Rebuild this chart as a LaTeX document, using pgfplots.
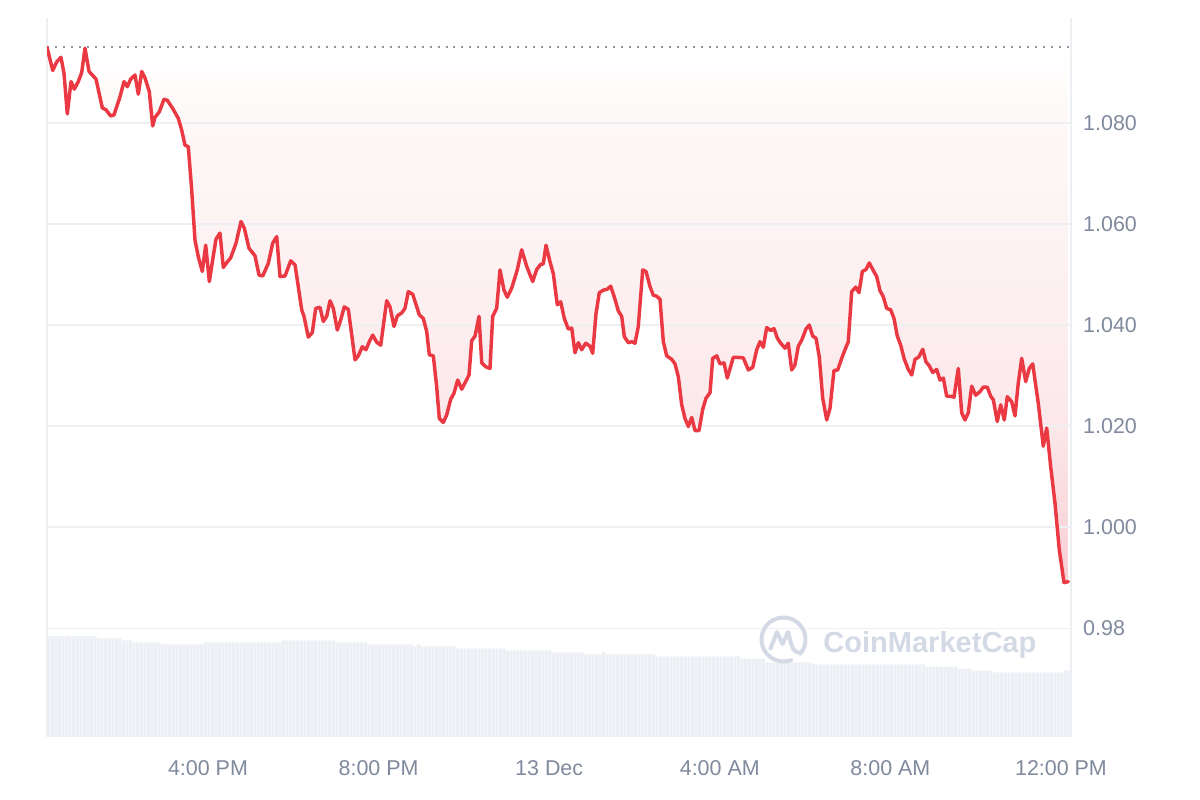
\documentclass[border=0pt]{standalone}
\usepackage{pgfplots}
\pgfplotsset{compat=1.18}
\usepackage{pgfplotstable}
\usepackage{fontspec}
\setmainfont{Liberation Sans}

\definecolor{cmcred}{RGB}{234,57,67}
\definecolor{pinkA}{RGB}{247,205,210}
\definecolor{pinkB}{RGB}{249,215,219}
\definecolor{pinkC}{RGB}{252,232,234}
\definecolor{pinkD}{RGB}{253,243,244}
\definecolor{pinkE}{RGB}{254,248,248}
\definecolor{labelgray}{RGB}{128,138,157}
\definecolor{gridgray}{RGB}{237,239,242}
\definecolor{volgray}{RGB}{236,240,244}
\definecolor{wmark}{RGB}{211,218,230}
\definecolor{dotgray}{RGB}{145,150,160}

% fill under the opening price: strong near the lows, fading to white
\pgfdeclareverticalshading{cmcfill}{100bp}{color(0bp)=(pinkA); color(25bp)=(pinkA);
  color(30bp)=(pinkB); color(40bp)=(pinkC); color(58bp)=(pinkD); color(68bp)=(pinkE);
  color(75bp)=(white); color(100bp)=(white)}

% hours after 12:00 PM (12 Dec), price in USD
\pgfplotstableread{
h p
0.225 1.0950
0.359 1.0904
0.453 1.0921
0.553 1.0930
0.624 1.0898
0.701 1.0818
0.788 1.0882
0.865 1.0867
0.959 1.0882
1.039 1.0900
1.116 1.0948
1.210 1.0902
1.374 1.0887
1.522 1.0830
1.608 1.0826
1.719 1.0814
1.796 1.0816
1.937 1.0852
2.031 1.0882
2.108 1.0872
2.188 1.0887
2.288 1.0895
2.366 1.0857
2.446 1.0902
2.523 1.0889
2.624 1.0862
2.703 1.0794
2.757 1.0811
2.858 1.0822
2.968 1.0847
3.046 1.0845
3.172 1.0829
3.304 1.0809
3.383 1.0786
3.461 1.0756
3.538 1.0753
3.618 1.0667
3.695 1.0568
3.773 1.0535
3.866 1.0506
3.946 1.0558
4.031 1.0486
4.110 1.0529
4.188 1.0570
4.281 1.0582
4.359 1.0514
4.453 1.0525
4.532 1.0533
4.657 1.0562
4.774 1.0605
4.851 1.0592
4.961 1.0552
5.102 1.0537
5.196 1.0499
5.283 1.0497
5.414 1.0522
5.517 1.0562
5.611 1.0575
5.688 1.0496
5.806 1.0497
5.939 1.0527
6.040 1.0519
6.117 1.0476
6.197 1.0430
6.251 1.0417
6.352 1.0376
6.446 1.0385
6.525 1.0433
6.626 1.0435
6.703 1.0407
6.783 1.0417
6.861 1.0448
6.938 1.0433
7.032 1.0390
7.112 1.0410
7.196 1.0436
7.290 1.0431
7.447 1.0331
7.524 1.0339
7.618 1.0357
7.705 1.0351
7.782 1.0367
7.862 1.0380
7.956 1.0366
8.050 1.0360
8.190 1.0448
8.267 1.0436
8.361 1.0397
8.439 1.0418
8.542 1.0424
8.619 1.0433
8.697 1.0466
8.800 1.0461
8.894 1.0436
8.955 1.0420
9.048 1.0413
9.128 1.0387
9.189 1.0341
9.283 1.0339
9.362 1.0278
9.423 1.0215
9.517 1.0207
9.597 1.0222
9.691 1.0253
9.768 1.0265
9.855 1.0291
9.949 1.0273
10.043 1.0288
10.120 1.0301
10.183 1.0369
10.261 1.0378
10.354 1.0417
10.418 1.0325
10.518 1.0317
10.612 1.0314
10.675 1.0417
10.769 1.0433
10.847 1.0509
10.940 1.0469
11.018 1.0455
11.121 1.0473
11.252 1.0509
11.355 1.0549
11.473 1.0516
11.613 1.0486
11.707 1.0510
11.801 1.0520
11.862 1.0521
11.925 1.0558
12.019 1.0525
12.096 1.0502
12.190 1.0440
12.270 1.0446
12.354 1.0413
12.448 1.0392
12.528 1.0394
12.605 1.0345
12.683 1.0365
12.762 1.0351
12.856 1.0364
12.957 1.0358
13.020 1.0344
13.098 1.0423
13.175 1.0464
13.269 1.0469
13.363 1.0471
13.442 1.0477
13.543 1.0451
13.620 1.0428
13.700 1.0417
13.761 1.0377
13.855 1.0365
13.935 1.0367
14.012 1.0364
14.089 1.0397
14.193 1.0509
14.270 1.0506
14.364 1.0476
14.441 1.0459
14.521 1.0457
14.598 1.0451
14.676 1.0367
14.755 1.0339
14.873 1.0332
14.950 1.0323
15.027 1.0298
15.107 1.0242
15.184 1.0215
15.262 1.0199
15.342 1.0217
15.419 1.0191
15.513 1.0191
15.599 1.0233
15.677 1.0255
15.771 1.0266
15.834 1.0334
15.928 1.0339
16.005 1.0323
16.099 1.0325
16.176 1.0295
16.317 1.0336
16.397 1.0336
16.551 1.0335
16.669 1.0311
16.772 1.0316
16.866 1.0351
16.943 1.0367
17.020 1.0356
17.100 1.0395
17.194 1.0389
17.271 1.0393
17.349 1.0374
17.428 1.0364
17.529 1.0354
17.606 1.0364
17.686 1.0311
17.763 1.0321
17.841 1.0358
17.921 1.0370
18.021 1.0392
18.099 1.0400
18.178 1.0378
18.256 1.0374
18.333 1.0337
18.413 1.0255
18.507 1.0212
18.584 1.0235
18.678 1.0310
18.765 1.0311
18.858 1.0334
18.959 1.0356
19.013 1.0367
19.093 1.0466
19.187 1.0475
19.264 1.0464
19.342 1.0506
19.428 1.0510
19.506 1.0523
19.585 1.0510
19.679 1.0496
19.756 1.0468
19.834 1.0456
19.913 1.0433
20.007 1.0430
20.085 1.0413
20.162 1.0378
20.242 1.0360
20.319 1.0334
20.420 1.0312
20.500 1.0301
20.577 1.0332
20.671 1.0337
20.758 1.0352
20.835 1.0327
20.913 1.0319
20.992 1.0306
21.086 1.0312
21.163 1.0291
21.241 1.0295
21.320 1.0259
21.414 1.0259
21.491 1.0257
21.592 1.0314
21.672 1.0226
21.749 1.0212
21.826 1.0226
21.906 1.0279
22.000 1.0261
22.101 1.0268
22.178 1.0277
22.272 1.0277
22.351 1.0259
22.413 1.0252
22.506 1.0209
22.587 1.0242
22.671 1.0212
22.741 1.0258
22.844 1.0248
22.922 1.0220
22.999 1.0285
23.079 1.0334
23.173 1.0288
23.257 1.0314
23.337 1.0323
23.468 1.0245
23.585 1.0160
23.665 1.0196
23.759 1.0119
23.860 1.0047
23.960 0.9955
24.071 0.9890
24.172 0.9892
}\pricetable

% volume bars, one per 5 minutes (relative height)
\pgfplotstableread[row sep=\\,header=false]{
101\\101\\101\\101\\101\\101\\101\\101\\101\\101\\101\\101\\101\\101\\
98.7\\98.7\\98.7\\98.7\\98.7\\98.7\\98.7\\
96.7\\96.7\\96.7\\
94.7\\94.7\\94.7\\94.7\\94.7\\94.7\\94.7\\94.7\\
92.7\\92.7\\92.7\\92.7\\92.7\\92.7\\92.7\\92.7\\92.7\\92.7\\92.7\\92.7\\
94.7\\94.7\\94.7\\94.7\\94.7\\94.7\\94.7\\94.7\\94.7\\94.7\\94.7\\
94.7\\94.7\\94.7\\94.7\\94.7\\94.7\\94.7\\94.7\\94.7\\94.7\\94.7\\
96.7\\96.7\\96.7\\96.7\\96.7\\96.7\\96.7\\96.7\\96.7\\96.7\\96.7\\96.7\\96.7\\96.7\\96.7\\
94.7\\94.7\\94.7\\94.7\\94.7\\94.7\\94.7\\94.7\\94.7\\
92.7\\92.7\\92.7\\92.7\\92.7\\92.7\\92.7\\92.7\\92.7\\92.7\\92.7\\92.7\\92.7\\
90.7\\92.7\\90.7\\90.7\\90.7\\90.7\\90.7\\90.7\\90.7\\90.7\\90.7\\90.7\\
88.7\\88.7\\88.7\\88.7\\88.7\\88.7\\88.7\\88.7\\88.7\\88.7\\88.7\\88.7\\88.7\\88.7\\
86.7\\86.7\\86.7\\86.7\\86.7\\86.7\\86.7\\86.7\\86.7\\86.7\\86.7\\86.7\\86.7\\
84.7\\84.7\\84.7\\84.7\\84.7\\84.7\\84.7\\84.7\\84.7\\
82.7\\82.7\\82.7\\82.7\\82.7\\84.7\\82.7\\82.7\\82.7\\82.7\\
82.7\\82.7\\82.7\\82.7\\82.7\\82.7\\82.7\\82.7\\82.7\\82.7\\
80.7\\80.7\\80.7\\80.7\\80.7\\80.7\\80.7\\80.7\\80.7\\80.7\\80.7\\80.7\\
80.7\\80.7\\80.7\\80.7\\80.7\\80.7\\80.7\\80.7\\80.7\\80.7\\80.7\\80.7\\
78.3\\78.3\\78.3\\78.3\\78.3\\78.3\\78.3\\
74.7\\74.7\\74.7\\74.7\\74.7\\74.7\\74.7\\74.7\\74.7\\74.7\\74.7\\74.7\\74.7\\
72.7\\72.7\\72.7\\72.7\\72.7\\72.7\\72.7\\72.7\\72.7\\72.7\\72.7\\72.7\\72.7\\72.7\\72.7\\72.7\\
72.7\\72.7\\72.7\\72.7\\72.7\\72.7\\72.7\\72.7\\72.7\\72.7\\72.7\\72.7\\72.7\\72.7\\72.7\\72.7\\
70.3\\70.3\\70.3\\70.3\\70.3\\70.3\\70.3\\70.3\\70.3\\
68.3\\68.3\\68.3\\68.3\\
66.3\\66.3\\66.3\\66.3\\66.3\\66.3\\
64.7\\64.7\\64.7\\64.7\\64.7\\64.7\\64.7\\64.7\\64.7\\64.7\\
64.7\\64.7\\64.7\\64.7\\64.7\\64.7\\64.7\\64.7\\64.7\\64.7\\
66.7\\66.7\\
}\voltable

\begin{document}
\begin{tikzpicture}
% page frame 1200 x 800 px (100 px per inch)
\path (0,0) rectangle (12in,8in);

% volume (background)
\begin{axis}[
    at={(0.47in,0.63in)}, anchor=south west,
    scale only axis, width=10.24in, height=7.19in,
    hide axis,
    xmin=-0.5, xmax=287.5, ymin=0, ymax=719,
  ]
  \addplot[ybar, bar width=0.86, bar shift=0pt, draw=none, fill=volgray]
    table[x expr=\coordindex, y index=0] {\voltable};
\end{axis}

% price
\begin{axis}[
    at={(0.47in,0.63in)}, anchor=south west,
    scale only axis, width=10.24in, height=7.19in,
    set layers,
    xmin=0.225, xmax=24.235, ymin=0.95843, ymax=1.10079,
    separate axis lines,
    x axis line style={draw=none},
    y axis line style={draw=gridgray, line width=1.1pt},
    ytick={0.98,1.00,1.02,1.04,1.06,1.08},
    yticklabels={0.98,1.000,1.020,1.040,1.060,1.080},
    yticklabel pos=right,
    xtick={4,8,12,16,20,24},
    xticklabels={4:00 PM,8:00 PM,13 Dec,4:00 AM,8:00 AM,12:00 PM},
    major tick length=0pt,
    ymajorgrids,
    grid style={draw=gridgray, line width=0.8pt},
    tick label style={font=\fontsize{15.5}{18}\selectfont, text=labelgray},
    yticklabel style={anchor=west, inner sep=0pt, xshift=8.6pt},
    xticklabel style={anchor=north, inner sep=0pt, yshift=-16.6pt},
  ]
  % shaded area between the price and the opening price
  \addplot[on layer=axis background, draw=none, shading=cmcfill]
    table {\pricetable} -- (axis cs:24.172,1.095) -- (axis cs:0.225,1.095) -- cycle;
  \addplot[dotgray, line width=1.44pt, dash pattern=on 1.44pt off 4.32pt]
    coordinates {(0.225,1.095) (24.235,1.095)};
  \addplot[cmcred, line width=2.5pt, line join=round, line cap=round]
    table {\pricetable};
\end{axis}

% watermark
\begin{scope}[wmark, line width=2.9pt, line cap=round, line join=round]
  \draw (7.835in,1.605in) ++(-40:0.22in) arc[start angle=-40, end angle=290, radius=0.22in];
  \draw (7.835in,1.605in) ++(-0.13in,-0.09in) -- ++(0.065in,0.165in) -- ++(0.055in,-0.12in)
        -- ++(0.055in,0.12in) -- ++(0.035in,-0.13in) .. controls +(0.02in,-0.06in) and +(-0.05in,0.01in) .. ++(0.09in,-0.08in);
\end{scope}
\node[anchor=base west, inner sep=0pt, text=wmark, font=\fontsize{21}{24}\selectfont\bfseries]
  at (8.23in,1.473in) {CoinMarketCap};
\end{tikzpicture}
\end{document}
